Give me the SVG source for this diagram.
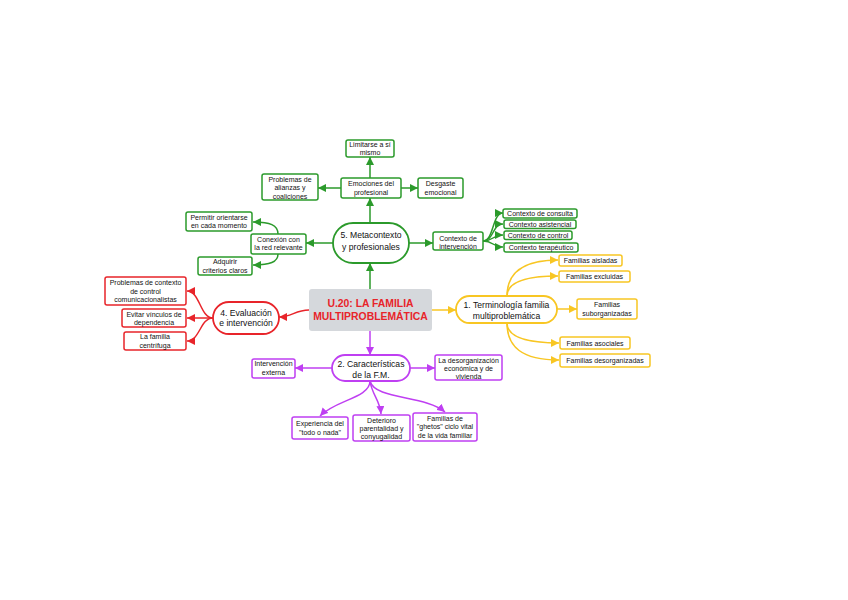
<svg xmlns="http://www.w3.org/2000/svg" width="848" height="600" viewBox="0 0 848 600">
<defs>
<marker id="aG" markerUnits="userSpaceOnUse" markerWidth="8" markerHeight="8" refX="8" refY="4" orient="auto"><path d="M0,0 L8,4 L0,8 z" fill="#2b9a2b"/></marker>
<marker id="aR" markerUnits="userSpaceOnUse" markerWidth="8" markerHeight="8" refX="8" refY="4" orient="auto"><path d="M0,0 L8,4 L0,8 z" fill="#e8242a"/></marker>
<marker id="aY" markerUnits="userSpaceOnUse" markerWidth="8" markerHeight="8" refX="8" refY="4" orient="auto"><path d="M0,0 L8,4 L0,8 z" fill="#f8c623"/></marker>
<marker id="aP" markerUnits="userSpaceOnUse" markerWidth="8" markerHeight="8" refX="8" refY="4" orient="auto"><path d="M0,0 L8,4 L0,8 z" fill="#bf3ff2"/></marker>
</defs>
<style>
text{font-family:"Liberation Sans",Arial,sans-serif;text-anchor:middle;fill:#111}
.leaf{font-size:7px}
.mid{font-size:8.6px}
.title{font-size:10.4px;font-weight:bold;fill:#e8242a}
.g{stroke:#2b9a2b;fill:#fff}
.r{stroke:#e8242a;fill:#fff}
.y{stroke:#f8c623;fill:#fff}
.p{stroke:#bf3ff2;fill:#fff}
.lf{stroke-width:1.5}
.pl{stroke-width:1.8}
.cg{stroke:#2b9a2b;fill:none;stroke-width:1.5;marker-end:url(#aG)}
.cr{stroke:#e8242a;fill:none;stroke-width:1.5;marker-end:url(#aR)}
.cy{stroke:#f8c623;fill:none;stroke-width:1.5;marker-end:url(#aY)}
.cp{stroke:#bf3ff2;fill:none;stroke-width:1.5;marker-end:url(#aP)}
</style>
<rect width="848" height="600" fill="#fff"/>
<g id="connectors">
<path class="cg" d="M370,289 L370,263"/>
<path class="cg" d="M370,223 L370,198"/>
<path class="cg" d="M370,178 L370,157"/>
<path class="cg" d="M341,188 L318,188"/>
<path class="cg" d="M401,188 L418,188"/>
<path class="cg" d="M333,243 L306,243"/>
<path class="cg" d="M278,234 C278,225 270,222 253,222"/>
<path class="cg" d="M278,254 C278,262 270,265 253,265"/>
<path class="cg" d="M409,243 L433,243"/>
<path class="cg" d="M483,241 C494,241 492,213 503,213"/>
<path class="cg" d="M483,241 C494,241 492,224 503,224"/>
<path class="cg" d="M483,241 C494,241 492,235 503,235"/>
<path class="cg" d="M483,241 C494,241 492,247 503,247"/>
<path class="cy" d="M432,310 L456,310"/>
<path class="cy" d="M507,296 C507,273 522,260 558,260"/>
<path class="cy" d="M507,296 C507,284 522,276 558,276"/>
<path class="cy" d="M557,309 L577,309"/>
<path class="cy" d="M507,323 C507,335 522,343 559,343"/>
<path class="cy" d="M507,323 C507,347 522,360 559,360"/>
<path class="cr" d="M309,310 C295,310 292,317 279,317"/>
<path class="cr" d="M213,318 C200,318 200,291 187,291"/>
<path class="cr" d="M213,318 L187,318"/>
<path class="cr" d="M213,318 C200,318 200,341 187,341"/>
<path class="cp" d="M370,331 L370,355"/>
<path class="cp" d="M332,368 L295,368"/>
<path class="cp" d="M410,368 L435,368"/>
<path class="cp" d="M370,381 C370,398 335,400 320,416"/>
<path class="cp" d="M370,381 C372,395 380,400 381,414"/>
<path class="cp" d="M370,381 C375,400 425,395 445,412"/>
</g>
<g id="center">
<rect x="309" y="289" width="123" height="42" rx="3" fill="#d5d8dc"/>
<text class="title" x="370.5" y="306.5">U.20: LA FAMILIA</text>
<text class="title" x="370.5" y="319.5">MULTIPROBLEMÁTICA</text>
</g>
<g id="n5">
<rect class="g pl" x="333" y="223" width="76" height="40" rx="20"/>
<text class="mid" x="371" y="238">5. Metacontexto</text>
<text class="mid" x="371" y="250">y profesionales</text>
</g>
<g id="emociones">
<rect class="g lf" x="341" y="178" width="60" height="20" rx="2"/>
<text class="leaf" x="371" y="186">Emociones del</text>
<text class="leaf" x="371" y="194.5">profesional</text>
</g>
<g id="limitarse">
<rect class="g lf" x="346" y="140" width="48" height="17" rx="2"/>
<text class="leaf" x="370" y="146.5">Limitarse a sí</text>
<text class="leaf" x="370" y="155">mismo</text>
</g>
<g id="alianzas">
<rect class="g lf" x="262" y="174" width="56" height="26" rx="2"/>
<text class="leaf" x="290" y="181.5">Problemas de</text>
<text class="leaf" x="290" y="190">alianzas y</text>
<text class="leaf" x="290" y="198.5">coaliciones</text>
</g>
<g id="desgaste">
<rect class="g lf" x="418" y="178" width="45" height="20" rx="2"/>
<text class="leaf" x="440.5" y="186">Desgaste</text>
<text class="leaf" x="440.5" y="194.5">emocional</text>
</g>
<g id="conexion">
<rect class="g lf" x="251" y="234" width="55" height="20" rx="2"/>
<text class="leaf" x="278.5" y="241.5">Conexión con</text>
<text class="leaf" x="278.5" y="250">la red relevante</text>
</g>
<g id="permitir">
<rect class="g lf" x="186" y="212" width="66" height="19" rx="2"/>
<text class="leaf" x="219" y="219.5">Permitir orientarse</text>
<text class="leaf" x="219" y="228">en cada momento</text>
</g>
<g id="adquirir">
<rect class="g lf" x="198" y="257" width="54" height="18" rx="2"/>
<text class="leaf" x="225" y="263.5">Adquirir</text>
<text class="leaf" x="225" y="272.5">criterios claros</text>
</g>
<g id="contexto">
<rect class="g lf" x="433" y="232" width="50" height="18" rx="2"/>
<text class="leaf" x="458" y="240.5">Contexto de</text>
<text class="leaf" x="458" y="249">intervención</text>
</g>
<g id="consulta">
<rect class="g lf" x="503" y="209" width="74" height="9" rx="2"/>
<text class="leaf" x="540" y="216">Contexto de consulta</text>
</g>
<g id="asistencial">
<rect class="g lf" x="504" y="220" width="72" height="8.5" rx="2"/>
<text class="leaf" x="540" y="226.8">Contexto asistencial</text>
</g>
<g id="control">
<rect class="g lf" x="504" y="231" width="68" height="8.5" rx="2"/>
<text class="leaf" x="538" y="237.8">Contexto de control</text>
</g>
<g id="terapeutico">
<rect class="g lf" x="504" y="243" width="74" height="9" rx="2"/>
<text class="leaf" x="541" y="250">Contexto terapéutico</text>
</g>
<g id="n1">
<rect class="y pl" x="456" y="296" width="101" height="27" rx="13.5"/>
<text class="mid" x="506.5" y="308">1. Terminología familia</text>
<text class="mid" x="506.5" y="318.5">multiproblemática</text>
</g>
<g id="aisladas">
<rect class="y lf" x="559" y="255" width="63" height="11" rx="2"/>
<text class="leaf" x="590.5" y="263">Familias aisladas</text>
</g>
<g id="excluidas">
<rect class="y lf" x="559" y="271" width="71" height="11" rx="2"/>
<text class="leaf" x="594.5" y="279">Familias excluidas</text>
</g>
<g id="suborganizadas">
<rect class="y lf" x="577" y="299" width="60" height="20" rx="2"/>
<text class="leaf" x="607" y="307">Familias</text>
<text class="leaf" x="607" y="315.5">suborganizadas</text>
</g>
<g id="asociales">
<rect class="y lf" x="560" y="337" width="70" height="12" rx="2"/>
<text class="leaf" x="595" y="345.5">Familias asociales</text>
</g>
<g id="desorganizadas">
<rect class="y lf" x="560" y="354" width="90" height="13" rx="2"/>
<text class="leaf" x="605" y="363">Familias desorganizadas</text>
</g>
<g id="n4">
<rect class="r pl" x="213" y="302" width="66" height="32" rx="16"/>
<text class="mid" x="246" y="315.5">4. Evaluación</text>
<text class="mid" x="246" y="325.5">e intervención</text>
</g>
<g id="problemas-contexto">
<rect class="r lf" x="105" y="277" width="81" height="28" rx="2"/>
<text class="leaf" x="145.5" y="285">Problemas de contexto</text>
<text class="leaf" x="145.5" y="293.5">de control</text>
<text class="leaf" x="145.5" y="302">comunicacionalistas</text>
</g>
<g id="evitar">
<rect class="r lf" x="122" y="309" width="64" height="18" rx="2"/>
<text class="leaf" x="154" y="316.5">Evitar vínculos de</text>
<text class="leaf" x="154" y="325">dependencia</text>
</g>
<g id="centrifuga">
<rect class="r lf" x="124" y="332" width="62" height="18" rx="2"/>
<text class="leaf" x="155" y="338.5">La familia</text>
<text class="leaf" x="155" y="347.5">centrífuga</text>
</g>
<g id="n2">
<rect class="p pl" x="332" y="355" width="78" height="26" rx="13"/>
<text class="mid" x="371" y="367.3">2. Características</text>
<text class="mid" x="371" y="377.5">de la F.M.</text>
</g>
<g id="externa">
<rect class="p lf" x="252" y="359" width="43" height="19" rx="2"/>
<text class="leaf" x="273.5" y="366">Intervención</text>
<text class="leaf" x="273.5" y="374.5">externa</text>
</g>
<g id="desorganizacion">
<rect class="p lf" x="435" y="355" width="67" height="25" rx="2"/>
<text class="leaf" x="468.5" y="362.5">La desorganización</text>
<text class="leaf" x="468.5" y="371">económica y de</text>
<text class="leaf" x="468.5" y="379">vivienda</text>
</g>
<g id="experiencia">
<rect class="p lf" x="292" y="417" width="56" height="22" rx="2"/>
<text class="leaf" x="320" y="426">Experiencia del</text>
<text class="leaf" x="320" y="434.5">"todo o nada"</text>
</g>
<g id="deterioro">
<rect class="p lf" x="353" y="415" width="57" height="26" rx="2"/>
<text class="leaf" x="381.5" y="422.5">Deterioro</text>
<text class="leaf" x="381.5" y="431">parentalidad y</text>
<text class="leaf" x="381.5" y="439">conyugalidad</text>
</g>
<g id="ghetos">
<rect class="p lf" x="413" y="413" width="64" height="28" rx="2"/>
<text class="leaf" x="445" y="420.5">Familias de</text>
<text class="leaf" x="445" y="429">"ghetos" ciclo vital</text>
<text class="leaf" x="445" y="437.5">de la vida familiar</text>
</g>
</svg>
